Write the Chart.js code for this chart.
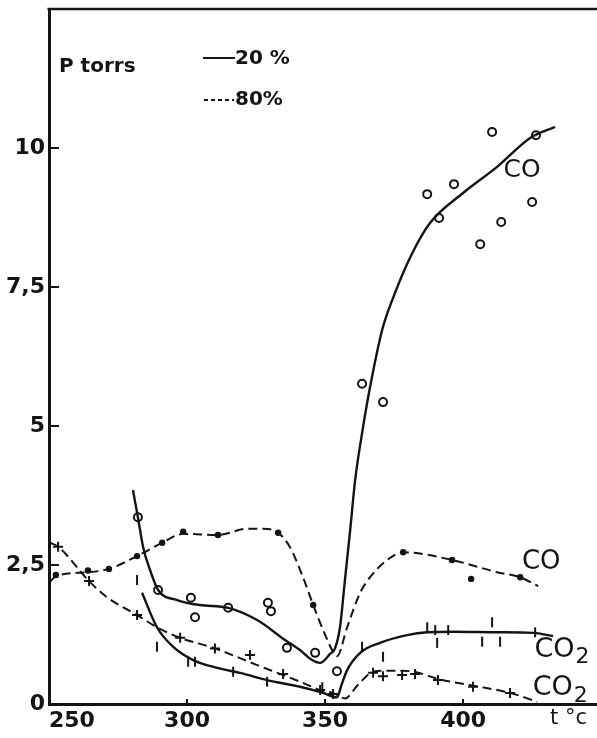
<!DOCTYPE html>
<html>
<head>
<meta charset="utf-8">
<script src="https://cdn.jsdelivr.net/npm/chart.js@4.4.1/dist/chart.umd.min.js"></script>
<style>
  html, body { margin: 0; padding: 0; background: #fff; }
  #wrap { width: 597px; height: 738px; position: relative; }
</style>
</head>
<body>
<div id="wrap"><canvas id="chart"></canvas></div>
<script>
// Axis ticks: temperature (°C) and pressure (torr)
const xTicks = [250, 300, 350, 400];
const yTicks = [0, 2.5, 5, 7.5, 10];
const yTickLabels = ['0', '2,5', '5', '7,5', '10'];

// CO, 20 % mixture: smoothed curve and measured points
const co20Curve = [
  [280.4, 3.85], [282.2, 3.36], [284.1, 2.82], [286.6, 2.41], [289.5, 2.05],
  [296.4, 1.87], [304.7, 1.78], [314.9, 1.73], [325.4, 1.51], [335.5, 1.15],
  [340.9, 0.97], [345.0, 0.80], [348.2, 0.74], [351.8, 0.90], [353.6, 1.00],
  [355.4, 1.38], [357.2, 2.23], [359.1, 3.13], [360.9, 4.03], [363.5, 4.90],
  [366.3, 5.70], [370.7, 6.73], [374.6, 7.30], [381.0, 8.05], [388.0, 8.65],
  [400.0, 9.19], [412.3, 9.66], [424.3, 10.18], [433.3, 10.38]
];
const co20Points = [
  [282.2, 3.36], [289.5, 2.05], [301.4, 1.91], [302.9, 1.56], [314.9, 1.73],
  [329.3, 1.82], [330.4, 1.67], [336.2, 1.01], [346.4, 0.92], [354.3, 0.59],
  [363.4, 5.76], [371.0, 5.43], [387.0, 9.17], [391.3, 8.74], [396.7, 9.35],
  [406.2, 8.27], [410.5, 10.29], [413.8, 8.67], [425.0, 9.03], [426.4, 10.23]
];

// CO, 80 % mixture
const co80Curve = [
  [250.4, 2.20], [252.5, 2.30], [264.1, 2.37], [271.7, 2.43], [281.9, 2.66],
  [291.0, 2.90], [298.6, 3.06], [311.2, 3.04], [321.7, 3.15], [327.5, 3.15],
  [333.0, 3.08], [337.3, 2.82], [342.0, 2.28], [345.7, 1.78], [349.3, 1.33],
  [352.9, 0.94], [354.3, 0.86], [358.0, 1.38], [362.7, 2.00], [366.3, 2.28],
  [372.5, 2.59], [378.3, 2.73], [396.0, 2.59], [412.3, 2.37], [420.7, 2.28],
  [427.2, 2.12]
];
const co80Points = [
  [252.5, 2.32], [264.1, 2.40], [271.7, 2.43], [281.9, 2.66], [291.0, 2.90],
  [298.6, 3.10], [311.2, 3.04], [333.0, 3.08], [345.7, 1.78], [378.3, 2.73],
  [396.0, 2.59], [402.9, 2.25], [420.7, 2.28]
];

// CO2, 20 % mixture
const co2_20Curve = [
  [283.7, 2.00], [289.1, 1.38], [294.9, 1.03], [302.2, 0.79], [310.9, 0.65],
  [319.2, 0.56], [329.0, 0.43], [340.9, 0.31], [349.3, 0.20], [354.3, 0.12],
  [356.0, 0.35], [358.0, 0.61], [362.7, 0.92], [369.9, 1.10], [379.7, 1.24],
  [387.0, 1.29], [396.4, 1.30], [412.3, 1.29], [425.4, 1.28], [432.6, 1.22]
];
const co2_20Points = [
  [281.9, 2.23], [289.1, 1.03], [300.4, 0.76], [302.9, 0.76], [316.7, 0.58],
  [329.0, 0.40], [349.0, 0.30], [363.4, 1.03], [371.0, 0.85], [387.0, 1.38],
  [389.9, 1.33], [390.6, 1.10], [394.6, 1.33], [406.9, 1.12], [410.5, 1.47],
  [413.4, 1.12], [426.1, 1.29]
];

// CO2, 80 % mixture
const co2_80Curve = [
  [250.4, 2.90], [253.3, 2.83], [264.5, 2.21], [271.0, 1.92], [281.9, 1.60],
  [289.1, 1.38], [297.5, 1.19], [310.1, 1.00], [325.4, 0.70], [334.8, 0.52],
  [342.0, 0.38], [348.2, 0.25], [352.9, 0.20], [357.2, 0.10], [362.0, 0.35],
  [367.4, 0.58], [372.0, 0.60], [378.0, 0.60], [383.0, 0.57], [391.0, 0.45],
  [403.6, 0.33], [417.0, 0.20], [426.8, 0.04]
];
const co2_80Points = [
  [253.3, 2.83], [264.5, 2.21], [281.9, 1.60], [297.5, 1.19], [310.1, 1.00],
  [322.8, 0.88], [334.8, 0.54], [348.2, 0.25], [352.9, 0.18], [367.4, 0.56],
  [371.0, 0.50], [377.9, 0.52], [382.6, 0.54], [390.9, 0.43], [403.6, 0.31],
  [417.0, 0.20]
];

const INK = '#141414';
const FONT = '"DejaVu Sans", sans-serif';
const DASH = [9, 5];

const xy = arr => arr.map(([x, y]) => ({ x, y }));

function curve(data, dashed) {
  return {
    data: xy(data),
    showLine: true,
    borderColor: INK,
    borderWidth: dashed ? 2 : 2.4,
    borderDash: dashed ? DASH : [],
    pointRadius: 0,
    cubicInterpolationMode: 'monotone',
    fill: false
  };
}
function markers(data, style, radius, fillColor, rotation) {
  return {
    data: xy(data),
    showLine: false,
    pointStyle: style,
    pointRadius: radius,
    pointRotation: rotation || 0,
    pointBorderWidth: 2,
    pointBorderColor: INK,
    pointBackgroundColor: fillColor,
    borderColor: INK,
    backgroundColor: fillColor
  };
}

// Species labels next to the curves
const curveLabels = [
  { text: 'CO', sub: '', x: 421.4, y: 9.59, size: 25 },
  { text: 'CO', sub: '', x: 428.3, y: 2.55, size: 26 },
  { text: 'CO', sub: '2', x: 436.2, y: 0.98, size: 27 },
  { text: 'CO', sub: '2', x: 435.6, y: 0.28, size: 27 }
];

// keep the plot frame flush with the canvas edges
function noEdgePadding(s) {
  s.paddingTop = 0; s.paddingBottom = 0; s.paddingLeft = 0; s.paddingRight = 0;
}

// the corner label sits clear of the vertical axis
const xTickLabel = v => (v === xTicks[0] ? '\u2007\u2007\u2007' : '') + String(v);

const drawings = {
  id: 'drawings',
  afterDatasetsDraw(chart) {
    const { ctx, chartArea: a, scales: { x, y } } = chart;
    ctx.save();
    ctx.fillStyle = INK;
    ctx.strokeStyle = INK;

    // top edge of the frame
    ctx.lineWidth = 2.5;
    ctx.beginPath();
    ctx.moveTo(a.left - 1.5, a.top);
    ctx.lineTo(chart.width, a.top);
    ctx.stroke();

    // curve labels
    ctx.textBaseline = 'middle';
    for (const l of curveLabels) {
      const px = x.getPixelForValue(l.x);
      const py = y.getPixelForValue(l.y);
      ctx.font = `normal ${l.size}px ${FONT}`;
      ctx.textAlign = l.sub ? 'left' : 'center';
      const left = l.sub ? px - ctx.measureText(l.text + l.sub).width / 2 : px;
      ctx.fillText(l.text, left, py);
      if (l.sub) {
        const w = ctx.measureText(l.text).width;
        ctx.font = `normal ${Math.round(l.size * 0.8)}px ${FONT}`;
        ctx.textAlign = 'left';
        ctx.fillText(l.sub, left + w + 1, py + l.size * 0.3);
      }
    }

    // legend
    ctx.font = `bold 20px ${FONT}`;
    ctx.textAlign = 'left';
    ctx.fillText('P torrs', a.left + 10, a.top + 58);
    ctx.lineWidth = 2;
    ctx.setLineDash([]);
    ctx.beginPath();
    ctx.moveTo(a.left + 154, a.top + 49);
    ctx.lineTo(a.left + 186, a.top + 49);
    ctx.stroke();
    ctx.setLineDash([4, 3]);
    ctx.beginPath();
    ctx.moveTo(a.left + 155, a.top + 91);
    ctx.lineTo(a.left + 185, a.top + 91);
    ctx.stroke();
    ctx.setLineDash([]);
    ctx.fillText('20 %', a.left + 186, a.top + 50);
    ctx.fillText('80%', a.left + 186, a.top + 91);

    // temperature unit under the axis
    ctx.font = `normal 21px ${FONT}`;
    ctx.fillText('t °c', 550, a.bottom + 15);
    ctx.restore();
  }
};

new Chart(document.getElementById('chart'), {
  type: 'line',
  data: {
    datasets: [
      curve(co20Curve, false),
      curve(co80Curve, true),
      curve(co2_20Curve, false),
      curve(co2_80Curve, true),
      markers(co20Points, 'circle', 4, '#fff'),
      markers(co80Points, 'circle', 2.2, INK),
      markers(co2_20Points, 'line', 5, INK, 90),
      markers(co2_80Points, 'cross', 5, INK)
    ]
  },
  options: {
    responsive: true,
    maintainAspectRatio: false,
    animation: false,
    layout: { autoPadding: false, padding: { top: 9, right: 0, bottom: 0, left: 0 } },
    plugins: { legend: { display: false }, tooltip: { enabled: false } },
    scales: {
      x: {
        type: 'linear',
        position: 'bottom',
        min: 250,
        max: 448.5,
        afterBuildTicks: s => { s.ticks = xTicks.map(v => ({ value: v })); },
        afterFit: s => { s.height = 34; noEdgePadding(s); },
        ticks: {
          color: INK,
          font: { family: FONT, size: 22, weight: 'bold' },
          padding: 9,
          maxRotation: 0,
          callback: xTickLabel
        },
        grid: { drawOnChartArea: false, drawTicks: true, tickLength: -5, color: INK, lineWidth: 2 },
        border: { color: INK, width: 3 }
      },
      y: {
        type: 'linear',
        min: 0,
        max: 12.5,
        afterBuildTicks: s => { s.ticks = yTicks.map(v => ({ value: v })); },
        afterFit: s => { s.width = 49; noEdgePadding(s); },
        ticks: {
          color: INK,
          font: { family: FONT, size: 22, weight: 'bold' },
          padding: 14,
          callback: v => yTickLabels[yTicks.indexOf(v)]
        },
        grid: { drawOnChartArea: false, drawTicks: true, tickLength: -10, color: INK, lineWidth: 2 },
        border: { color: INK, width: 3 }
      }
    }
  },
  plugins: [drawings]
});
</script>
</body>
</html>
